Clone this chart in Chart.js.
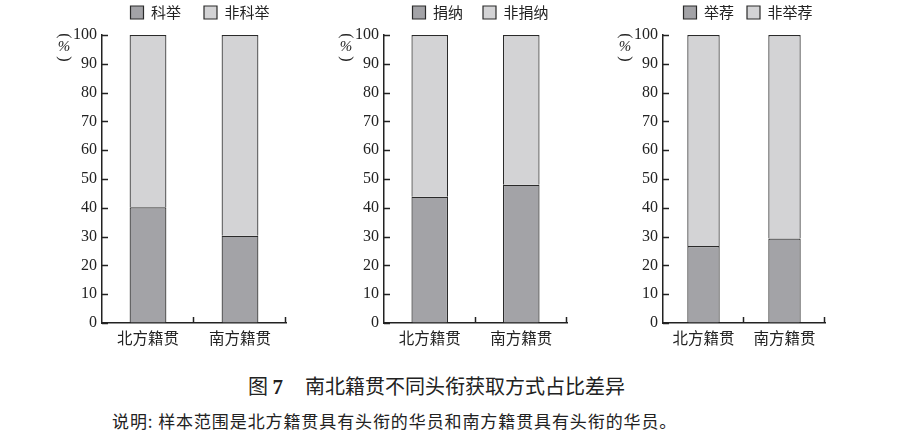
<!DOCTYPE html>
<html>
<head>
<meta charset="utf-8">
<script src="https://cdn.jsdelivr.net/npm/chart.js@4.4.0/dist/chart.umd.min.js"></script>
<style>
  body { margin: 0; background: #fff; }
  #page { position: relative; width: 910px; height: 438px; overflow: hidden; }
  .box { position: absolute; top: 0; height: 350px; }
  #title { position: absolute; top: 371px; left: 248px; line-height: 20px; white-space: nowrap;
    font: 20px "Noto Sans CJK SC", sans-serif; color: #222; }
  #title b { font-family: "Liberation Serif", serif; font-size: 21px; margin-right: 22px; }
  #note { position: absolute; top: 408px; left: 112px; line-height: 17px; white-space: nowrap;
    font: 17px "Noto Sans CJK SC", sans-serif; letter-spacing: 0.9px; color: #222; }
</style>
</head>
<body>
<div id="page">
  <div class="box" style="left:40px;width:260px"><canvas id="c1"></canvas></div>
  <div class="box" style="left:322px;width:259px"><canvas id="c2"></canvas></div>
  <div class="box" style="left:601px;width:238px"><canvas id="c3"></canvas></div>
  <div id="title">图 <b>7</b>南北籍贯不同头衔获取方式占比差异</div>
  <div id="note">说明: 样本范围是北方籍贯具有头衔的华员和南方籍贯具有头衔的华员。</div>
</div>
<script>
const categories = ['北方籍贯', '南方籍贯'];
const yTicks = [0, 10, 20, 30, 40, 50, 60, 70, 80, 90, 100];

// 科举
const keju = [40.2, 30.3];
const feiKeju = [59.8, 69.7];
// 捐纳
const juanna = [43.8, 48.0];
const feiJuanna = [56.2, 52.0];
// 举荐
const jujian = [26.7, 29.3];
const feiJujian = [73.3, 70.7];

const dark = '#a3a3a7';
const light = '#d3d3d5';
const ink = '#222';

// 刻度朝内：y轴向右，x轴向上；另画竖排的（%）
const axisExtras = {
  id: 'axisExtras',
  beforeInit(chart) {
    const legend = chart.legend;
    const fit = legend.fit;
    const h = 35 - chart.options.layout.padding.top;
    legend.fit = function () {
      fit.call(this);
      this.height = h;
    };
  },
  afterLayout(chart, args, opts) {
    // 图例整体右移一点
    chart.legend.left += opts.shift;
    chart.legend.right += opts.shift;
  },
  afterDraw(chart) {
    const ctx = chart.ctx;
    const x = chart.scales.x;
    const y = chart.scales.y;
    const n = categories.length;
    ctx.save();
    ctx.strokeStyle = ink;
    ctx.lineWidth = 1.5;
    for (let i = 1; i <= n; i++) {
      const px = Math.round(x.left + (x.right - x.left) * i / n) - 0.5;
      ctx.beginPath();
      ctx.moveTo(px, x.top);
      ctx.lineTo(px, x.top - 6);
      ctx.stroke();
    }
    yTicks.forEach(v => {
      const py = Math.round(y.getPixelForValue(v)) + 0.5;
      ctx.beginPath();
      ctx.moveTo(y.right, py);
      ctx.lineTo(y.right + 6, py);
      ctx.stroke();
    });
    const cx = chart.chartArea.left - 38;
    const top = chart.chartArea.top;
    ctx.fillStyle = ink;
    ctx.textAlign = 'center';
    ctx.textBaseline = 'middle';
    ctx.font = '16px "Liberation Serif"';
    [['(', top + 1], [')', top + 24]].forEach(([ch, py]) => {
      ctx.save();
      ctx.translate(cx, py);
      ctx.rotate(Math.PI / 2);
      ctx.fillText(ch, 0, 0);
      ctx.restore();
    });
    ctx.font = 'italic 15px "Liberation Serif"';
    ctx.fillText('%', cx, top + 12);
    ctx.restore();
  }
};

function makeChart(id, labelA, labelB, dataA, dataB, rightPad, gap, shift) {
  new Chart(document.getElementById(id), {
    type: 'bar',
    data: {
      labels: categories,
      datasets: [
        { label: labelA, data: dataA, backgroundColor: dark, borderColor: '#2a2a2a', borderWidth: 1.2 },
        { label: labelB, data: dataB, backgroundColor: light, borderColor: '#2a2a2a', borderWidth: 1.2 }
      ]
    },
    options: {
      responsive: true,
      maintainAspectRatio: false,
      animation: false,
      categoryPercentage: 0.4,
      barPercentage: 1,
      layout: { padding: { top: 5 - gap, right: rightPad, left: 0, bottom: 0 } },
      plugins: {
        axisExtras: { shift: shift },
        legend: {
          labels: {
            boxWidth: 13,
            boxHeight: 13,
            padding: gap,
            color: ink,
            font: { family: '"Noto Sans CJK SC"', size: 15 }
          }
        },
        tooltip: { enabled: false }
      },
      scales: {
        x: {
          stacked: true,
          grid: { display: false, drawTicks: false },
          border: { color: ink, width: 1.5 },
          ticks: { color: ink, padding: 6, font: { family: '"Noto Sans CJK SC"', size: 15.5 } },
          afterFit: (s) => { s.height = 27; }
        },
        y: {
          stacked: true,
          min: 0,
          max: 100,
          afterBuildTicks: (s) => { s.ticks = yTicks.map(v => ({ value: v })); },
          grid: { drawOnChartArea: false, drawTicks: false },
          border: { color: ink, width: 1.5 },
          ticks: { color: ink, padding: 5, font: { family: '"Liberation Serif"', size: 16 } },
          afterFit: (s) => { s.width = 62; }
        }
      }
    },
    plugins: [axisExtras]
  });
}

makeChart('c1', '科举', '非科举', keju, feiKeju, 14, 23, 37);
makeChart('c2', '捐纳', '非捐纳', juanna, feiJuanna, 14, 20, 36);
makeChart('c3', '举荐', '非举荐', jujian, feiJujian, 14, 13, 35);
</script>
</body>
</html>
